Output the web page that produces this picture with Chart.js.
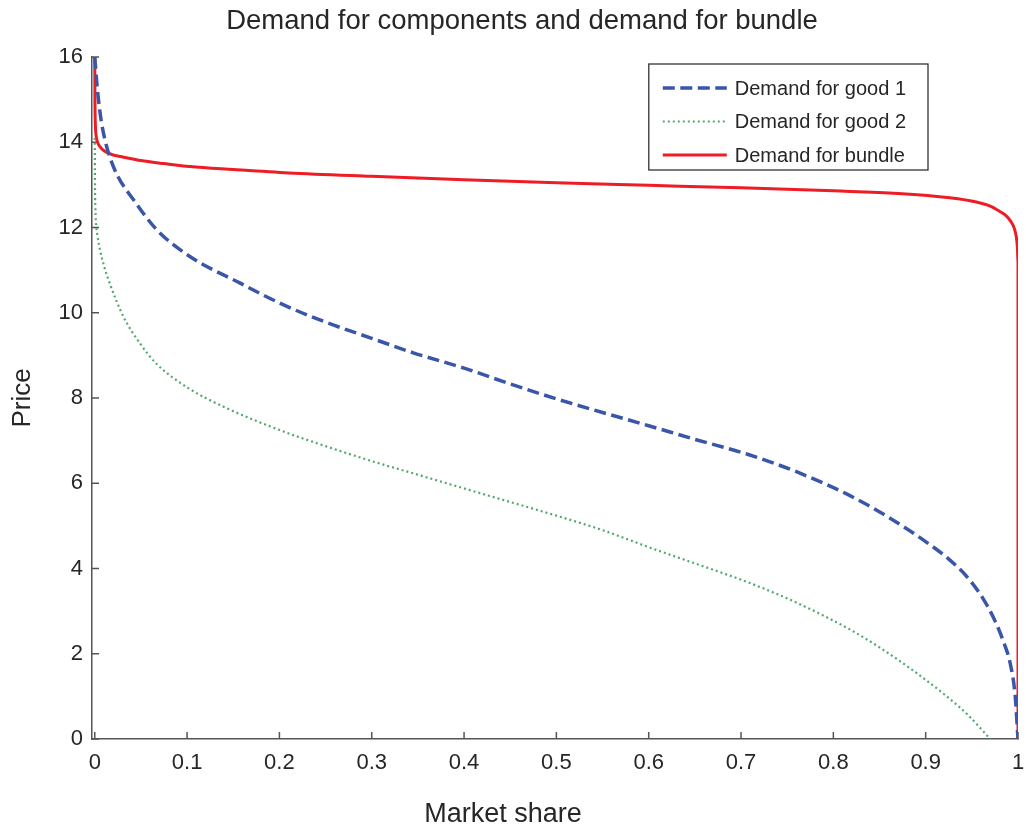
<!DOCTYPE html>
<html>
<head>
<meta charset="utf-8">
<script src="https://cdn.jsdelivr.net/npm/chart.js@4.4.0/dist/chart.umd.min.js"></script>
<style>
html,body{margin:0;padding:0;background:#fff;}
#wrap{width:1026px;height:832px;}
</style>
</head>
<body>
<div id="wrap"><canvas id="c" width="1026" height="832"></canvas></div>
<script>
// ---- Data ----
const titleText = 'Demand for components and demand for bundle';
const xAxisTitle = 'Market share';
const yAxisTitle = 'Price';
const xTickValues = [0, 0.1, 0.2, 0.3, 0.4, 0.5, 0.6, 0.7, 0.8, 0.9, 1];
const xTickLabels = ['0', '0.1', '0.2', '0.3', '0.4', '0.5', '0.6', '0.7', '0.8', '0.9', '1'];
const yTickValues = [0, 2, 4, 6, 8, 10, 12, 14, 16];
const yTickLabels = ['0', '2', '4', '6', '8', '10', '12', '14', '16'];
const seriesNames = ['Demand for good 1', 'Demand for good 2', 'Demand for bundle'];

const shareGood1 = [0, 0.002, 0.004, 0.007, 0.011, 0.016, 0.025, 0.042, 0.067, 0.103, 0.157, 0.204, 0.25, 0.3, 0.345, 0.4, 0.45, 0.5, 0.55, 0.6, 0.65, 0.707, 0.76, 0.817, 0.86, 0.9, 0.925, 0.945, 0.962, 0.974, 0.984, 0.992, 0.997, 1];
const priceGood1 = [16, 15.45, 15.0, 14.5, 14.06, 13.67, 13.2, 12.65, 11.95, 11.32, 10.7, 10.19, 9.78, 9.4, 9.06, 8.7, 8.33, 7.98, 7.66, 7.35, 7.03, 6.68, 6.27, 5.72, 5.2, 4.63, 4.22, 3.8, 3.3, 2.82, 2.3, 1.73, 1.0, 0];

const shareGood2 = [0, 0.0002, 0.0006, 0.0012, 0.003, 0.0056, 0.01, 0.016, 0.031, 0.05, 0.067, 0.1, 0.139, 0.2, 0.25, 0.3, 0.35, 0.417, 0.45, 0.5, 0.55, 0.6, 0.65, 0.707, 0.76, 0.817, 0.85, 0.89, 0.92, 0.945, 0.97];
const priceGood2 = [14.1, 13.1, 12.5, 12.15, 11.8, 11.48, 11.1, 10.7, 9.91, 9.25, 8.8, 8.25, 7.8, 7.25, 6.87, 6.52, 6.2, 5.77, 5.56, 5.24, 4.9, 4.5, 4.12, 3.68, 3.2, 2.58, 2.15, 1.55, 1.05, 0.58, 0];

const shareBundle = [0, 0.0002, 0.0006, 0.0015, 0.003, 0.0056, 0.01, 0.02, 0.031, 0.05, 0.075, 0.103, 0.15, 0.21, 0.3, 0.4, 0.5, 0.6, 0.7, 0.8, 0.87, 0.926, 0.955, 0.97, 0.98, 0.987, 0.992, 0.996, 0.998, 0.9993, 1, 1];
const priceBundle = [16, 15.0, 14.45, 14.15, 14.0, 13.9, 13.8, 13.7, 13.65, 13.57, 13.5, 13.43, 13.36, 13.28, 13.2, 13.12, 13.05, 12.99, 12.93, 12.86, 12.8, 12.7, 12.6, 12.5, 12.38, 12.28, 12.15, 11.98, 11.8, 11.55, 11.2, 0];

// ---- Helpers ----
function toPoints(xs, ys) { return xs.map((x, i) => ({x: x, y: ys[i]})); }
const FONT = '"Liberation Sans", Arial, Helvetica, sans-serif';
const TEXT = '#262626';
const AXIS = '#555555';

const inwardTicks = {
  id: 'inwardTicks',
  beforeDatasetsDraw(chart) {
    const {ctx, chartArea, scales} = chart;
    ctx.save();
    ctx.strokeStyle = AXIS;
    ctx.lineWidth = 1.5;
    ctx.beginPath();
    scales.x.ticks.forEach(t => {
      const px = scales.x.getPixelForValue(t.value);
      ctx.moveTo(px, chartArea.bottom);
      ctx.lineTo(px, chartArea.bottom - 7);
    });
    scales.y.ticks.forEach(t => {
      const py = scales.y.getPixelForValue(t.value);
      ctx.moveTo(chartArea.left, py);
      ctx.lineTo(chartArea.left + 7, py);
    });
    ctx.stroke();
    ctx.restore();
  }
};

// x-axis title drawn as canvas text (offset left of the axis centre, as in the original)
const xTitlePlugin = {
  id: 'xTitlePlugin',
  afterDraw(chart) {
    const {ctx} = chart;
    ctx.save();
    ctx.font = '27px ' + FONT;
    ctx.fillStyle = TEXT;
    ctx.textAlign = 'center';
    ctx.textBaseline = 'middle';
    ctx.fillText(xAxisTitle, chart.width / 2 - 10, chart.height - 17);
    ctx.restore();
  }
};

const boxLegend = {
  id: 'boxLegend',
  afterDraw(chart) {
    const {ctx, chartArea} = chart;
    const ds = chart.data.datasets;
    ctx.save();
    ctx.font = '20px ' + FONT;
    let maxW = 0;
    ds.forEach(d => { maxW = Math.max(maxW, ctx.measureText(d.label).width); });
    const padL = 14, sample = 64, gap = 8, padR = 22, rowH = 33.5, firstRow = 24, lastPad = 15;
    const right = chartArea.right - 90;
    const top = chartArea.top + 7;
    const w = padL + sample + gap + maxW + padR;
    const h = firstRow + rowH * (ds.length - 1) + lastPad;
    const left = right - w;
    ctx.fillStyle = '#ffffff';
    ctx.fillRect(left, top, w, h);
    ctx.strokeStyle = '#333333';
    ctx.lineWidth = 1.3;
    ctx.strokeRect(left, top, w, h);
    ds.forEach((d, i) => {
      const cy = top + firstRow + i * rowH;
      ctx.save();
      ctx.strokeStyle = d.borderColor;
      ctx.lineWidth = d.borderWidth;
      ctx.setLineDash(d.borderDash || []);
      ctx.beginPath();
      ctx.moveTo(left + padL, cy);
      ctx.lineTo(left + padL + sample, cy);
      ctx.stroke();
      ctx.restore();
      ctx.fillStyle = TEXT;
      ctx.textBaseline = 'middle';
      ctx.textAlign = 'left';
      ctx.fillText(d.label, left + padL + sample + gap, cy + 1);
    });
    ctx.restore();
  }
};

new Chart(document.getElementById('c'), {
  type: 'scatter',
  data: {
    datasets: [
      {
        label: seriesNames[0],
        data: toPoints(shareGood1, priceGood1),
        showLine: true,
        borderColor: '#3a56a8',
        backgroundColor: '#3a56a8',
        borderWidth: 3.5,
        borderDash: [12, 5.5],
        pointRadius: 0,
        cubicInterpolationMode: 'monotone'
      },
      {
        label: seriesNames[1],
        data: toPoints(shareGood2, priceGood2),
        showLine: true,
        borderColor: '#52a86e',
        backgroundColor: '#52a86e',
        borderWidth: 2.2,
        borderDash: [2, 3],
        pointRadius: 0,
        cubicInterpolationMode: 'monotone'
      },
      {
        label: seriesNames[2],
        data: toPoints(shareBundle, priceBundle),
        showLine: true,
        borderColor: '#ee1c25',
        backgroundColor: '#ee1c25',
        borderWidth: 3,
        pointRadius: 0,
        cubicInterpolationMode: 'monotone'
      }
    ]
  },
  options: {
    responsive: false,
    animation: false,
    devicePixelRatio: 1,
    layout: { padding: { left: 18, right: 0, top: 0, bottom: 0 } },
    plugins: {
      legend: { display: false },
      tooltip: { enabled: false },
      title: {
        display: true,
        text: titleText,
        color: TEXT,
        font: { family: FONT, size: 27.5, weight: 'normal' },
        padding: { top: 5, bottom: 19 }
      }
    },
    scales: {
      x: {
        type: 'linear',
        min: -0.003,
        max: 1,
        afterBuildTicks: s => { s.ticks = xTickValues.map(v => ({value: v})); },
        afterFit: s => { s.height = 93; s.paddingRight = 8; },
        ticks: {
          autoSkip: false,
          maxRotation: 0,
          padding: 11,
          color: TEXT,
          font: { family: FONT, size: 22 },
          callback: (v, i) => xTickLabels[i]
        },
        grid: { drawOnChartArea: false, drawTicks: false },
        border: { display: true, color: AXIS, width: 1.5 },
        title: { display: false, text: xAxisTitle }
      },
      y: {
        type: 'linear',
        min: 0,
        max: 16,
        afterBuildTicks: s => { s.ticks = yTickValues.map(v => ({value: v})); },
        afterFit: s => { s.width = 74; },
        ticks: {
          autoSkip: false,
          padding: 9,
          color: TEXT,
          font: { family: FONT, size: 22 },
          callback: (v, i) => yTickLabels[i]
        },
        grid: { drawOnChartArea: false, drawTicks: false },
        border: { display: true, color: AXIS, width: 1.5 },
        title: {
          display: true,
          text: yAxisTitle,
          color: TEXT,
          font: { family: FONT, size: 26 },
          padding: { top: -11, bottom: 0 }
        }
      }
    }
  },
  plugins: [inwardTicks, boxLegend, xTitlePlugin]
});
</script>
</body>
</html>
